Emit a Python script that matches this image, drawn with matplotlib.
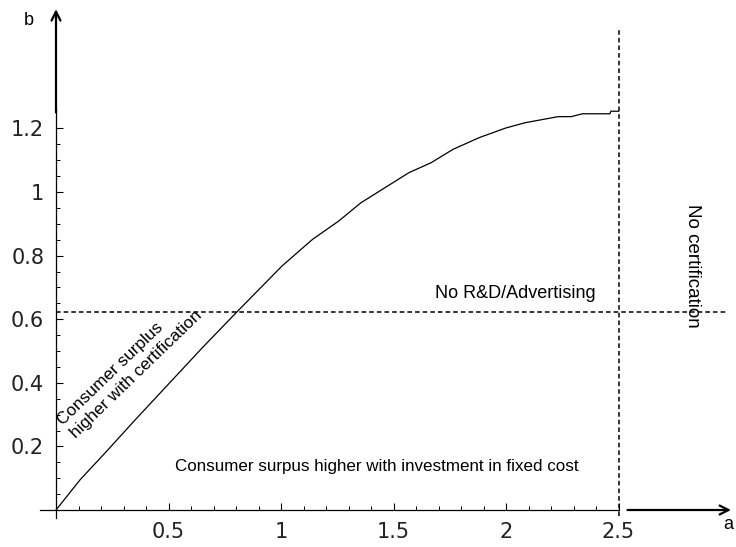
import numpy as np
import matplotlib
matplotlib.use('Agg')
import matplotlib.pyplot as plt

# boundary curve b(a) between the two surplus regimes
a_vals = [0.0, 0.107, 0.224, 0.35, 0.5, 0.65, 0.80, 1.004, 1.14, 1.257, 1.355,
          1.569, 1.667, 1.764, 1.881, 1.998, 2.086, 2.232, 2.29, 2.34, 2.462,
          2.466, 2.5]
b_vals = [0.0, 0.095, 0.184, 0.282, 0.396, 0.510, 0.620, 0.767, 0.851, 0.909,
          0.966, 1.061, 1.092, 1.134, 1.171, 1.201, 1.218, 1.237, 1.237, 1.246,
          1.246, 1.254, 1.254]

b_threshold = 0.623   # no R&D / advertising above this b
a_threshold = 2.5     # no certification beyond this a

x_ticks = [0.5, 1, 1.5, 2, 2.5]
x_ticklabels = ['0.5', '1', '1.5', '2', '2.5']
y_ticks = [0.2, 0.4, 0.6, 0.8, 1.0, 1.2]
y_ticklabels = ['0.2', '0.4', '0.6', '0.8', '1', '1.2']

W, H = 736, 547
fig = plt.figure(figsize=(W / 100, H / 100), dpi=100)
ax = fig.add_axes([0, 0, 1, 1])
ax.set_xlim(-56 / 225, (W - 56) / 225)
ax.set_ylim(-(H - 510) / 318, 510 / 318)

# axes through the origin, Mathematica style
for side in ['top', 'right']:
    ax.spines[side].set_visible(False)
ax.spines['left'].set_position(('data', 0))
ax.spines['bottom'].set_position(('data', 0))
ax.spines['left'].set_bounds(-0.025, 1.265)
ax.spines['bottom'].set_bounds(-0.07, 2.5)
for s in ['left', 'bottom']:
    ax.spines[s].set_linewidth(0.9)

ax.set_xticks(x_ticks)
ax.set_xticklabels(x_ticklabels)
ax.set_yticks(y_ticks)
ax.set_yticklabels(y_ticklabels)
ax.set_xticks(np.round(np.arange(0.1, 2.5, 0.1), 2), minor=True)
ax.set_yticks(np.round(np.arange(0.05, 1.2, 0.05), 2), minor=True)
ax.tick_params(which='major', direction='in', length=5, width=0.8,
               labelsize=15, labelcolor='#222222')
ax.tick_params(which='minor', direction='in', length=3, width=0.7)
ax.tick_params(axis='x', which='major', pad=9)
ax.tick_params(axis='y', which='major', pad=8.5)
for lab in ax.get_xticklabels() + ax.get_yticklabels():
    lab.set_family('DejaVu Sans')

# axis arrows
arrow = dict(arrowstyle='->', color='black', lw=1.6, mutation_scale=16,
             shrinkA=0, shrinkB=0)
ax.annotate('', xy=(3.0, 0), xytext=(2.54, 0), arrowprops=arrow)
ax.annotate('', xy=(0, 1.575), xytext=(0, 1.25), arrowprops=arrow)

ax.plot(a_vals, b_vals, color='black', lw=0.9)

dash = (0, (3, 2))
ax.plot([0, 2.98], [b_threshold, b_threshold], color='black', lw=1.1, ls=dash)
ax.plot([a_threshold, a_threshold], [-0.02, 1.52], color='black', lw=1.1, ls=dash)

font = 'Liberation Sans'
ax.text(2.04, 0.68, 'No R&D/Advertising', fontsize=13, family=font,
        ha='center', va='center')
ax.text(1.426, 0.137, 'Consumer surpus higher with investment in fixed cost',
        fontsize=12.25, family=font, ha='center', va='center')
ax.text(2.83, 0.768, 'No certification', fontsize=13.5, family=font,
        rotation=-90, ha='center', va='center')
ax.text(0.045, 0.255, 'Consumer surplus\nhigher with certification',
        fontsize=12.4, family=font, rotation=44, rotation_mode='anchor',
        ha='left', va='center', multialignment='left', linespacing=1.3)
ax.text(-0.12, 1.54, 'b', fontsize=13, family=font, ha='center', va='center')
ax.text(2.99, -0.047, 'a', fontsize=13, family=font, ha='center', va='center')

fig.savefig('out.png', dpi=100)
